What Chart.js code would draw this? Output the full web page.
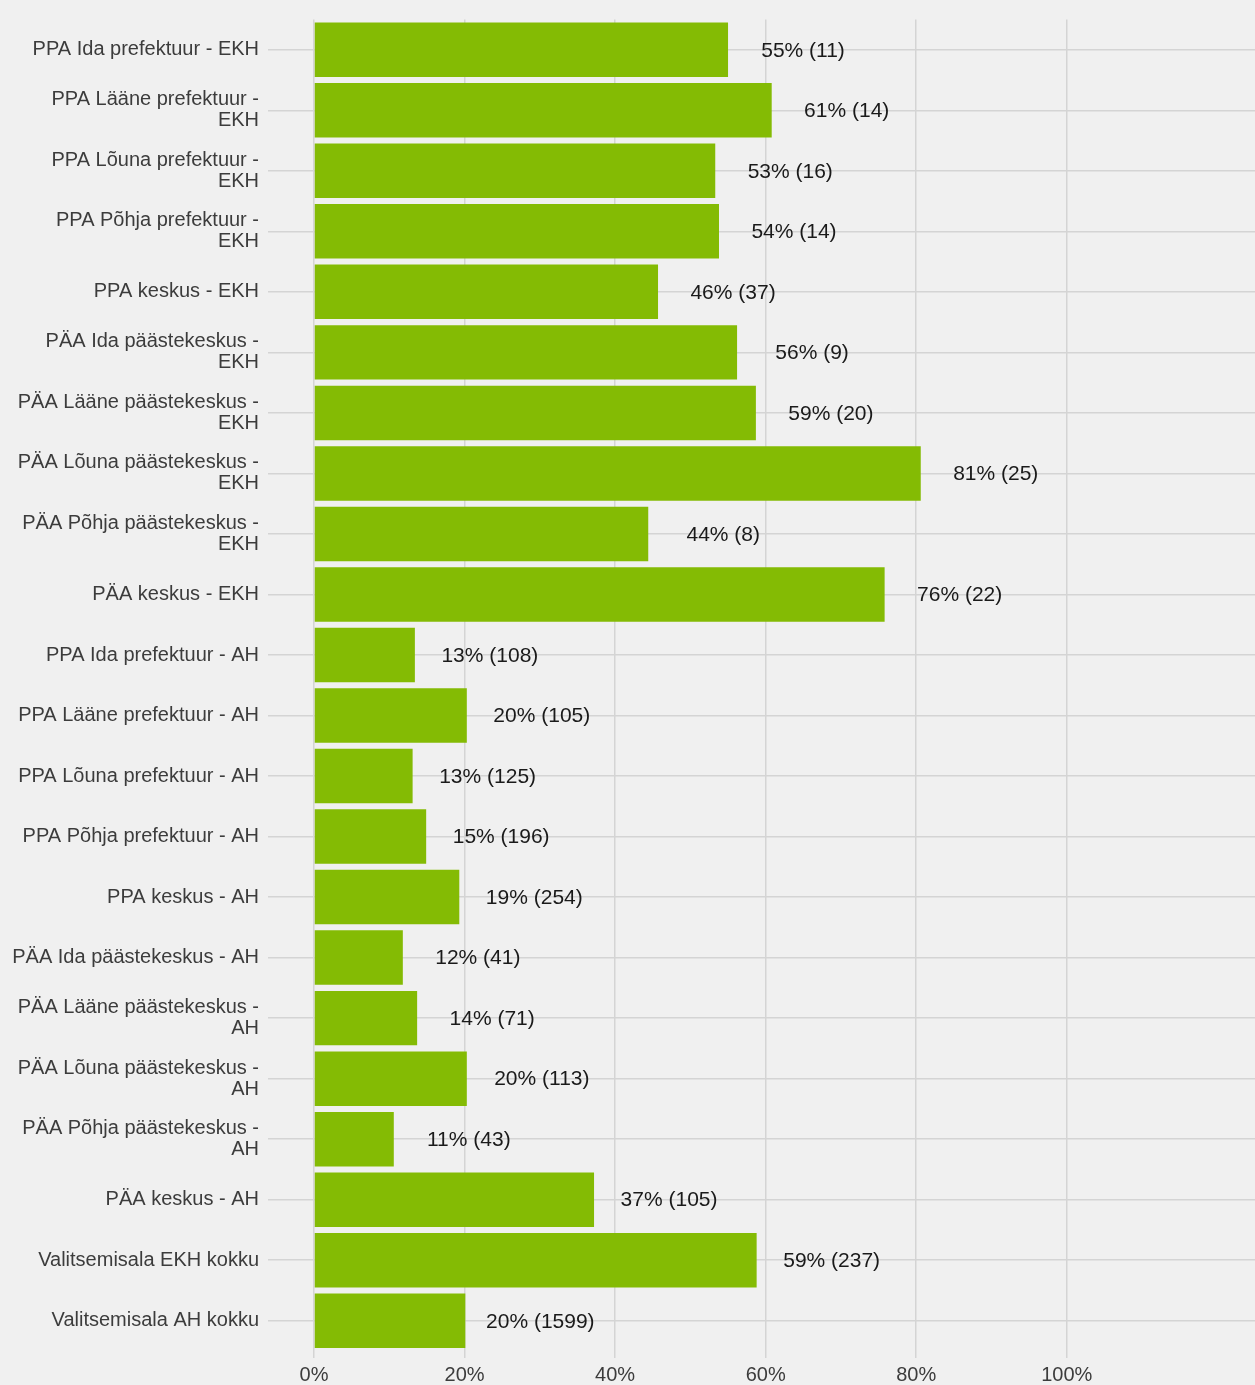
<!DOCTYPE html>
<html>
<head>
<meta charset="utf-8">
<script src="https://cdn.jsdelivr.net/npm/chart.js@4"></script>
<style>
  html, body { margin: 0; padding: 0; background: #f0f0f0; }
  #wrap { width: 1255px; height: 1385px; }
</style>
</head>
<body>
<div id="wrap"><canvas id="chart"></canvas></div>
<script>
const categories = [
  'PPA Ida prefektuur - EKH',
  ['PPA Lääne prefektuur -', 'EKH'],
  ['PPA Lõuna prefektuur -', 'EKH'],
  ['PPA Põhja prefektuur -', 'EKH'],
  'PPA keskus - EKH',
  ['PÄA Ida päästekeskus -', 'EKH'],
  ['PÄA Lääne päästekeskus -', 'EKH'],
  ['PÄA Lõuna päästekeskus -', 'EKH'],
  ['PÄA Põhja päästekeskus -', 'EKH'],
  'PÄA keskus - EKH',
  'PPA Ida prefektuur - AH',
  'PPA Lääne prefektuur - AH',
  'PPA Lõuna prefektuur - AH',
  'PPA Põhja prefektuur - AH',
  'PPA keskus - AH',
  'PÄA Ida päästekeskus - AH',
  ['PÄA Lääne päästekeskus -', 'AH'],
  ['PÄA Lõuna päästekeskus -', 'AH'],
  ['PÄA Põhja päästekeskus -', 'AH'],
  'PÄA keskus - AH',
  'Valitsemisala EKH kokku',
  'Valitsemisala AH kokku'
];
const percents = [55.0, 60.8, 53.3, 53.8, 45.7, 56.2, 58.7, 80.6, 44.4, 75.8,
  13.4, 20.3, 13.1, 14.9, 19.3, 11.8, 13.7, 20.3, 10.6, 37.2, 58.8, 20.1];
const counts = [11, 14, 16, 14, 37, 9, 20, 25, 8, 22,
  108, 105, 125, 196, 254, 41, 71, 113, 43, 105, 237, 1599];
const xTicks = [0, 20, 40, 60, 80, 100];

const FONT = '"Liberation Sans", Arial, sans-serif';

// value labels to the right of each bar
const barLabels = {
  id: 'barLabels',
  afterDatasetsDraw(chart) {
    const ctx = chart.ctx;
    const meta = chart.getDatasetMeta(0);
    ctx.save();
    ctx.font = '21px ' + FONT;
    ctx.fillStyle = '#1a1a1a';
    ctx.textAlign = 'center';
    ctx.textBaseline = 'middle';
    meta.data.forEach((bar, i) => {
      ctx.fillText(Math.round(percents[i]) + '% (' + counts[i] + ')', bar.x + 75, bar.y + 1);
    });
    ctx.restore();
  }
};

new Chart(document.getElementById('chart'), {
  type: 'bar',
  data: {
    labels: categories,
    datasets: [{
      data: percents,
      backgroundColor: '#84bb04',
      borderWidth: 0,
      barPercentage: 0.9,
      categoryPercentage: 1.0
    }]
  },
  options: {
    indexAxis: 'y',
    responsive: true,
    maintainAspectRatio: false,
    animation: false,
    layout: { padding: { top: 18, left: 0, right: 0, bottom: 0 } },
    plugins: {
      legend: { display: false },
      tooltip: { enabled: false }
    },
    scales: {
      x: {
        min: 0,
        max: 125,
        afterBuildTicks: axis => { axis.ticks = xTicks.map(v => ({ value: v })); },
        afterFit: scale => { scale.height = 34; },
        border: { display: false },
        grid: { color: '#d4d4d4', lineWidth: 1.5, tickLength: 7 },
        ticks: {
          padding: 5,
          color: '#3c3c3c',
          font: { family: FONT, size: 20 },
          callback: v => v + '%'
        }
      },
      y: {
        afterFit: scale => { scale.width = 314; },
        border: { display: false },
        grid: { color: '#d4d4d4', lineWidth: 1.5, tickLength: 46, offset: false },
        ticks: {
          padding: 9,
          color: '#3c3c3c',
          font: { family: FONT, size: 20, lineHeight: 1.05 }
        }
      }
    }
  },
  plugins: [barLabels]
});
</script>
</body>
</html>
